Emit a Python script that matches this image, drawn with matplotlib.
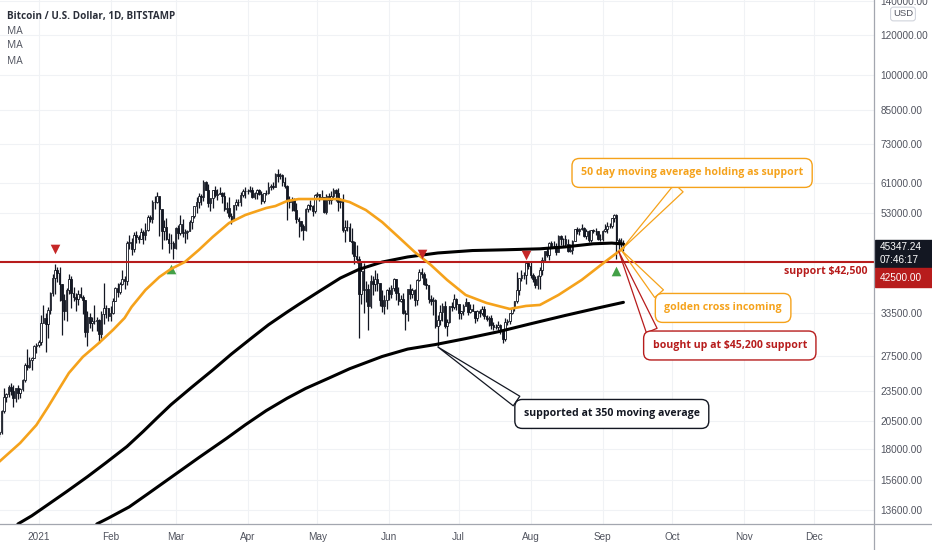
import numpy as np
import pandas as pd
import matplotlib
matplotlib.use('Agg')
import matplotlib.pyplot as plt
import matplotlib.dates as mdates
import matplotlib.transforms as mtrans
from matplotlib.patches import Rectangle
from matplotlib.lines import Line2D

plt.rcParams['font.family'] = ['Open Sans', 'DejaVu Sans']

# daily BTC candles (thousands USD), 2020-12-15 .. 2021-09-10, open = previous close
first_open = 19.27
close = [
    # Dec 15-31
    19.44, 21.38, 22.82, 23.14, 23.87, 23.48, 22.74, 23.82, 23.25, 23.73, 24.71, 26.44, 26.25, 27.04, 27.37, 28.86, 28.99,
    # Jan
    29.37, 32.13, 32.78, 31.97, 33.99, 36.82, 39.37, 40.80, 40.25, 38.35, 35.55, 33.92, 37.32, 39.19, 36.82, 36.18,
    35.79, 36.63, 36.07, 35.55, 30.83, 33.01, 32.10, 32.29, 32.37, 32.57, 30.43, 33.47, 34.32, 34.32, 33.11,
    # Feb
    33.54, 35.51, 37.67, 36.93, 38.29, 39.26, 38.90, 46.20, 46.48, 44.92, 47.91, 47.50, 47.16, 48.59,
    47.94, 49.20, 52.17, 51.59, 55.89, 55.89, 57.41, 54.09, 48.89, 49.68, 47.06, 46.34, 46.19, 45.14,
    # Mar
    49.63, 48.38, 50.54, 48.37, 48.76, 48.88, 50.97, 52.38, 54.88, 55.86, 57.33, 57.25, 61.20, 59.01, 55.62, 56.90,
    58.91, 57.65, 58.03, 58.10, 57.35, 54.08, 54.34, 52.30, 51.30, 55.03, 55.84, 55.78, 57.63, 58.73, 58.80,
    # Apr
    58.73, 58.96, 57.09, 58.20, 59.12, 57.99, 56.00, 58.09, 58.09, 59.77, 59.98, 59.83, 63.50, 62.97, 63.16,
    61.33, 60.05, 56.21, 55.72, 56.47, 53.80, 51.70, 51.19, 50.05, 49.00, 54.02, 55.03, 54.82, 53.57, 57.75,
    # May
    57.83, 56.63, 57.20, 53.24, 57.50, 56.44, 57.38, 58.95, 58.24, 55.86, 56.70, 49.15, 49.72, 49.88, 46.76, 46.45,
    43.54, 42.90, 36.70, 40.78, 37.30, 37.54, 34.70, 38.80, 38.32, 39.24, 38.44, 35.69, 34.64, 35.66, 37.30,
    # Jun
    36.69, 37.57, 39.19, 36.85, 35.52, 35.80, 33.58, 33.40, 37.39, 36.69, 37.33, 35.55, 39.10, 40.51, 40.15,
    38.35, 38.09, 35.82, 35.48, 35.60, 31.68, 32.50, 33.69, 34.66, 31.59, 32.16, 34.65, 34.48, 35.87, 35.04,
    # Jul
    33.57, 33.90, 34.66, 35.29, 33.69, 34.22, 33.86, 32.88, 33.81, 33.51, 34.26, 33.09, 32.73, 32.82, 31.78, 31.42,
    31.52, 31.78, 30.84, 29.79, 32.14, 32.30, 33.59, 34.29, 35.40, 37.28, 39.46, 40.03, 40.01, 42.24, 41.63,
    # Aug
    39.97, 39.20, 38.15, 39.75, 40.87, 42.83, 44.61, 43.82, 46.29, 45.60, 45.55, 44.43, 47.83, 47.10, 47.05, 46.00,
    44.70, 44.80, 46.72, 49.34, 48.90, 49.32, 49.55, 47.70, 48.99, 46.85, 49.07, 48.90, 48.83, 47.05, 47.17,
    # Sep 1-10
    48.85, 49.28, 50.03, 49.94, 51.77, 52.66, 46.86, 46.07, 46.37, 45.35,
]
high = [
    19.57, 21.56, 23.77, 23.29, 24.17, 24.30, 24.10, 23.84, 24.10, 23.80, 24.77, 26.72, 28.42, 27.39, 27.39, 28.94, 29.30,
    29.60, 33.30, 34.78, 33.60, 34.45, 36.94, 40.18, 41.95, 41.36, 41.40, 38.30, 36.60, 37.60, 40.10, 39.70, 37.90,
    36.80, 37.30, 37.80, 36.40, 35.60, 33.80, 33.50, 32.90, 34.80, 32.90, 32.60, 33.80, 38.50, 34.90, 34.30,
    34.70, 35.90, 37.80, 38.60, 38.70, 40.90, 39.70, 46.60, 48.10, 47.30, 48.60, 48.90, 48.10, 49.60,
    49.00, 50.60, 52.50, 52.50, 56.30, 57.50, 58.35, 57.50, 54.10, 51.30, 52.00, 48.40, 48.30, 46.60,
    49.80, 50.20, 52.60, 51.70, 49.40, 49.20, 51.40, 52.40, 54.90, 57.20, 58.10, 58.00, 61.70, 61.60, 60.60, 56.90,
    58.98, 60.00, 59.40, 59.80, 58.40, 58.40, 55.80, 57.20, 53.20, 55.10, 56.60, 56.50, 58.40, 59.30, 59.80,
    59.40, 60.00, 59.70, 58.50, 59.20, 59.40, 58.60, 58.20, 58.90, 61.20, 60.70, 61.20, 63.70, 64.90, 63.80,
    63.50, 62.50, 60.40, 57.50, 57.00, 56.80, 55.50, 52.10, 51.20, 50.50, 54.30, 55.40, 56.30, 55.10, 57.90,
    58.40, 57.90, 58.90, 57.20, 57.90, 58.30, 58.60, 59.50, 59.20, 59.50, 56.90, 57.90, 51.30, 51.50, 50.60, 49.60,
    46.60, 45.80, 43.50, 42.60, 42.20, 38.80, 38.30, 39.90, 39.80, 40.80, 40.40, 38.20, 37.30, 36.40, 37.50,
    37.90, 38.20, 39.40, 39.20, 37.90, 36.40, 36.80, 34.00, 37.50, 38.40, 37.60, 37.40, 39.30, 41.00, 41.30,
    40.50, 39.50, 38.20, 36.40, 36.10, 35.80, 33.30, 34.80, 35.20, 35.50, 32.70, 34.70, 35.30, 36.60, 36.00,
    35.00, 33.90, 35.00, 35.90, 35.30, 35.00, 35.00, 33.90, 34.00, 34.20, 34.60, 34.60, 33.30, 33.10, 33.20, 32.20,
    31.90, 32.40, 31.90, 31.00, 32.80, 32.60, 33.60, 34.50, 35.40, 40.55, 39.50, 40.90, 40.60, 42.30, 42.40,
    42.60, 40.40, 39.80, 39.90, 41.40, 43.30, 44.70, 45.30, 46.40, 46.70, 46.70, 46.20, 47.90, 48.10, 47.40, 48.00,
    47.10, 46.00, 47.00, 49.40, 49.80, 49.50, 50.50, 49.90, 49.30, 49.00, 49.20, 49.30, 49.60, 48.90, 48.20,
    49.00, 50.40, 51.00, 50.60, 51.80, 52.90, 52.90, 47.40, 47.30, 47.00,
]
low = [
    19.05, 19.30, 21.23, 22.35, 22.80, 23.07, 21.81, 22.35, 22.60, 22.70, 23.45, 24.52, 25.86, 26.07, 25.86, 27.32, 27.94,
    28.70, 29.00, 32.00, 28.13, 29.91, 33.40, 36.30, 36.60, 38.72, 35.50, 30.40, 32.51, 32.40, 36.70, 34.40, 35.40,
    33.90, 34.80, 35.90, 33.40, 30.07, 28.80, 31.40, 30.90, 31.95, 30.87, 29.30, 30.00, 31.90, 32.85, 32.30,
    32.30, 33.40, 35.40, 36.10, 36.60, 38.20, 37.40, 38.10, 45.00, 43.80, 44.30, 46.30, 46.20, 47.10,
    46.10, 47.00, 48.90, 50.90, 50.70, 54.00, 55.50, 47.70, 45.00, 47.00, 46.90, 44.10, 45.00, 43.00,
    45.00, 47.10, 48.10, 47.50, 46.30, 47.10, 48.90, 49.30, 51.90, 53.10, 54.30, 55.00, 56.10, 58.90, 54.60, 53.50,
    54.20, 57.10, 56.30, 57.90, 55.50, 53.70, 53.00, 52.00, 50.40, 51.30, 53.90, 54.70, 54.90, 57.00, 56.90,
    57.90, 58.50, 56.90, 56.70, 56.50, 57.60, 55.40, 55.70, 57.70, 57.90, 59.00, 59.40, 59.80, 61.30, 62.10,
    60.00, 59.60, 51.50, 54.20, 53.50, 53.60, 50.60, 47.60, 48.80, 47.00, 48.80, 53.30, 53.90, 52.40, 53.00,
    57.00, 56.00, 56.50, 53.10, 52.90, 55.30, 55.30, 56.90, 56.20, 53.50, 54.40, 48.60, 46.50, 48.80, 46.60, 43.90,
    42.10, 42.20, 30.00, 35.00, 33.50, 35.30, 31.10, 34.40, 36.50, 37.20, 37.20, 34.70, 33.70, 33.40, 34.20,
    35.70, 35.90, 37.20, 35.60, 34.80, 35.30, 33.40, 31.00, 32.40, 35.80, 35.90, 34.60, 34.80, 38.80, 39.50,
    38.10, 37.40, 35.20, 34.80, 33.30, 31.30, 28.80, 31.70, 32.30, 31.30, 30.20, 32.00, 33.90, 34.20, 34.00,
    32.70, 32.70, 33.30, 34.60, 33.20, 33.50, 33.80, 32.10, 32.30, 33.00, 33.30, 32.70, 32.30, 31.60, 31.20, 31.10,
    31.20, 31.10, 30.50, 29.30, 29.50, 31.70, 31.90, 33.40, 33.90, 35.20, 36.40, 38.80, 39.30, 38.30, 41.10,
    39.50, 38.70, 37.60, 37.50, 37.40, 39.90, 42.50, 43.40, 42.80, 45.30, 45.40, 43.80, 44.30, 45.90, 45.60, 45.70,
    44.40, 44.30, 43.90, 46.70, 48.30, 48.00, 49.10, 47.60, 47.20, 46.40, 46.40, 48.40, 48.00, 46.90, 46.80,
    46.60, 48.70, 48.40, 49.60, 49.50, 50.90, 43.00, 44.50, 45.50, 44.70,
]

# moving averages (USD)
ma50_dates = ['2020-12-15', '2020-12-24', '2020-12-31', '2021-01-05', '2021-01-10', '2021-01-14',
              '2021-01-20', '2021-01-27', '2021-02-02', '2021-02-07', '2021-02-10', '2021-02-16',
              '2021-02-22', '2021-02-27', '2021-03-05', '2021-03-11', '2021-03-17', '2021-03-24',
              '2021-03-31', '2021-04-09', '2021-04-13', '2021-04-18', '2021-04-23', '2021-05-10',
              '2021-05-15', '2021-05-22', '2021-05-29', '2021-06-05', '2021-06-12', '2021-06-19',
              '2021-06-26', '2021-07-04', '2021-07-13', '2021-07-23', '2021-07-30', '2021-08-05',
              '2021-08-13', '2021-08-23', '2021-09-02', '2021-09-10']
ma50 = [16980, 18500, 20090, 21820, 23800, 25500, 27450, 29270, 31060, 32810, 34510, 37310,
        39600, 41080, 42420, 44820, 47580, 50700, 52600, 54310, 54810, 56080, 56600, 56600,
        55820, 53810, 50930, 47580, 44410, 41840, 39060, 36460, 35150, 34200, 34670, 34830,
        36460, 39060, 42420, 45230]

ma200_dates = ['2020-12-23', '2020-12-29', '2021-01-05', '2021-01-13', '2021-01-22', '2021-01-30',
               '2021-02-08', '2021-02-15', '2021-02-21', '2021-02-27', '2021-03-08', '2021-03-17',
               '2021-03-25', '2021-04-03', '2021-04-10', '2021-04-18', '2021-04-23', '2021-05-02',
               '2021-05-11', '2021-05-19', '2021-05-29', '2021-06-09', '2021-06-22', '2021-07-07',
               '2021-07-21', '2021-08-05', '2021-08-16', '2021-08-28', '2021-09-05', '2021-09-10']
ma200 = [12760, 13250, 13950, 14800, 15850, 16900, 18200, 19500, 20750, 22050, 23900, 25850,
         27800, 30000, 31800, 33700, 34900, 37100, 39400, 41000, 42400, 43400, 44200, 44700,
         44850, 45050, 45450, 46100, 46250, 46050]

ma350_dates = ['2021-01-26', '2021-01-31', '2021-02-09', '2021-02-17', '2021-02-27', '2021-03-11',
               '2021-03-23', '2021-03-31', '2021-04-09', '2021-04-18', '2021-04-26', '2021-05-06',
               '2021-05-15', '2021-05-29', '2021-06-09', '2021-06-21', '2021-07-04', '2021-07-18',
               '2021-08-01', '2021-08-16', '2021-08-30', '2021-09-10']
ma350 = [12760, 13110, 13800, 14650, 15800, 17300, 18900, 20100, 21450, 22700, 23750, 24900,
         26000, 27500, 28450, 29050, 29850, 30800, 31950, 33200, 34350, 35250]

support = 42500
last_price = 45347.24

sell_dates = ['2021-01-08', '2021-06-15', '2021-07-30']
sell_prices = [45000, 44010, 43800]
buy_dates = ['2021-02-27', '2021-09-07']
buy_prices = [41080, 40700]

yticks = [13600, 15600, 18000, 20500, 23500, 27500, 33500, 53000, 61000, 73000, 85000, 100000, 120000, 140000]
months = ['2021', 'Feb', 'Mar', 'Apr', 'May', 'Jun', 'Jul', 'Aug', 'Sep', 'Oct', 'Nov', 'Dec']

ORANGE = '#f5a21b'
RED = '#b71c1c'
INK = '#131722'
AXC = '#50535e'
axis_font = ['Liberation Sans', 'DejaVu Sans']

W, H = 932, 550
fig = plt.figure(figsize=(W / 100, H / 100), dpi=100)
ax = fig.add_axes([0, 26 / H, 874 / W, 524 / H])

dates = pd.date_range('2020-12-15', periods=len(close), freq='D')
x = mdates.date2num(dates)
c = np.array(close) * 1000
o = np.array([first_open] + close[:-1]) * 1000
hi = np.maximum(np.array(high) * 1000, np.maximum(o, c))
lo = np.minimum(np.array(low) * 1000, np.minimum(o, c))
up = c >= o

ax.vlines(x, lo, hi, color=INK, lw=0.9, zorder=3)
ax.bar(x[up], (c - o)[up], bottom=o[up], width=0.7, color='white', edgecolor=INK, lw=0.6, zorder=4)
ax.bar(x[~up], (o - c)[~up], bottom=c[~up], width=0.7, color=INK, edgecolor=INK, lw=0.6, zorder=4)


def ma_line(ds, vals, color, lw, z):
    ax.plot(mdates.date2num(pd.to_datetime(ds)), vals, color=color, lw=lw, zorder=z,
            solid_capstyle='round', solid_joinstyle='round')


ma_line(ma200_dates, ma200, 'black', 2.2, 5)
ma_line(ma350_dates, ma350, 'black', 2.2, 5)
ax.axhline(support, color=RED, lw=1.5, zorder=5)
ax.scatter(mdates.date2num(pd.to_datetime(buy_dates)), buy_prices, marker='^', s=48, color='#43a047', zorder=5, lw=0)
ma_line(ma50_dates, ma50, ORANGE, 1.9, 6)
ax.scatter(mdates.date2num(pd.to_datetime(sell_dates)), sell_prices, marker='v', s=48, color='#c62828', zorder=7, lw=0)

# axes
ax.set_yscale('log')
ax.set_ylim(12760, 140950)
jan1 = mdates.date2num(pd.Timestamp('2021-01-01'))
ax.set_xlim(jan1 - 16.7, jan1 + 360.0)
mstarts = mdates.date2num(pd.date_range('2021-01-01', periods=12, freq='MS'))
ax.set_xticks(mstarts)
ax.set_xticklabels(months)
ax.yaxis.tick_right()
ax.set_yticks(yticks)
ax.set_yticklabels(['%.2f' % v for v in yticks])
ax.yaxis.set_minor_locator(matplotlib.ticker.NullLocator())
ax.tick_params(axis='both', length=0, colors=AXC, labelsize=7.2)
ax.tick_params(axis='y', pad=4.5)
ax.tick_params(axis='x', pad=6)
for lab in ax.get_xticklabels() + ax.get_yticklabels():
    lab.set_family(axis_font)
ax.grid(True, color='#f0f2f5', lw=0.8, zorder=0)
for s in ['top', 'left', 'bottom', 'right']:
    ax.spines[s].set_visible(False)
fig.add_artist(Line2D([0, 1], [26 / H, 26 / H], transform=fig.transFigure, color='#a3a6af', lw=0.9))
fig.add_artist(Line2D([874 / W, 874 / W], [0, 1], transform=fig.transFigure, color='#a3a6af', lw=0.9))

# support label
ax.annotate('support $42,500', xy=(1, support), xycoords=mtrans.blended_transform_factory(ax.transAxes, ax.transData),
            xytext=(-6, -10), textcoords='offset pixels', ha='right', va='center',
            color=RED, fontsize=7.6, fontweight='bold', zorder=8)


def callout(text, date, price, offset, color, relpos):
    ax.annotate(text, xy=(mdates.date2num(pd.Timestamp(date)), price), xytext=offset,
                textcoords='offset pixels', ha='center', va='center', color=color,
                fontsize=7.6, fontweight='bold', zorder=9,
                bbox=dict(boxstyle='round,pad=0.85,rounding_size=0.7', fc='white', ec=color, lw=1.0),
                arrowprops=dict(arrowstyle='wedge,tail_width=1.1,shrink_factor=0.5', fc='none', ec=color,
                                lw=0.9, shrinkA=0, shrinkB=0, relpos=relpos))


callout('50 day moving average holding as support', '2021-09-09', 44820, (71, 77), ORANGE, (0.48, 0.0))
callout('golden cross incoming', '2021-09-09', 44820, (102, -58), ORANGE, (0.02, 1.0))
callout('bought up at $45,200 support', '2021-09-08', 44500, (111, -94), RED, (0.02, 1.0))
callout('supported at 350 moving average', '2021-06-22', 28730, (174, -67), INK, (0.02, 1.0))

# header texts
fig.text(7 / W, 1 - 16 / H, 'Bitcoin / U.S. Dollar, 1D, BITSTAMP', fontsize=7.1, fontweight='bold',
         color='#2a2e39', va='center')
for i in range(3):
    fig.text(7 / W, 1 - (31 + 15 * i) / H, 'MA', fontsize=7.4, color='#50535e', va='center')

# price axis boxes
fig.add_artist(Rectangle((875 / W, 1 - 268 / H), 57 / W, 28 / H, transform=fig.transFigure, color=INK))
fig.add_artist(Rectangle((875 / W, 1 - 287 / H), 57 / W, 19 / H, transform=fig.transFigure, color=RED))
fig.text(880 / W, 1 - 247 / H, '%.2f' % last_price, color='white', fontsize=7.2, va='center', family=axis_font)
fig.text(880 / W, 1 - 260 / H, '07:46:17', color='white', fontsize=7.2, va='center', family=axis_font)
fig.text(880 / W, 1 - 278 / H, '%.2f' % support, color='white', fontsize=7.2, va='center', family=axis_font)
fig.text(903 / W, 1 - 14 / H, 'USD', color=AXC, fontsize=6.8, ha='center', va='center', family=axis_font,
         bbox=dict(boxstyle='round,pad=0.25,rounding_size=0.3', fc='white', ec='#d1d4dc', lw=0.8))

fig.savefig('out.png', dpi=100)
